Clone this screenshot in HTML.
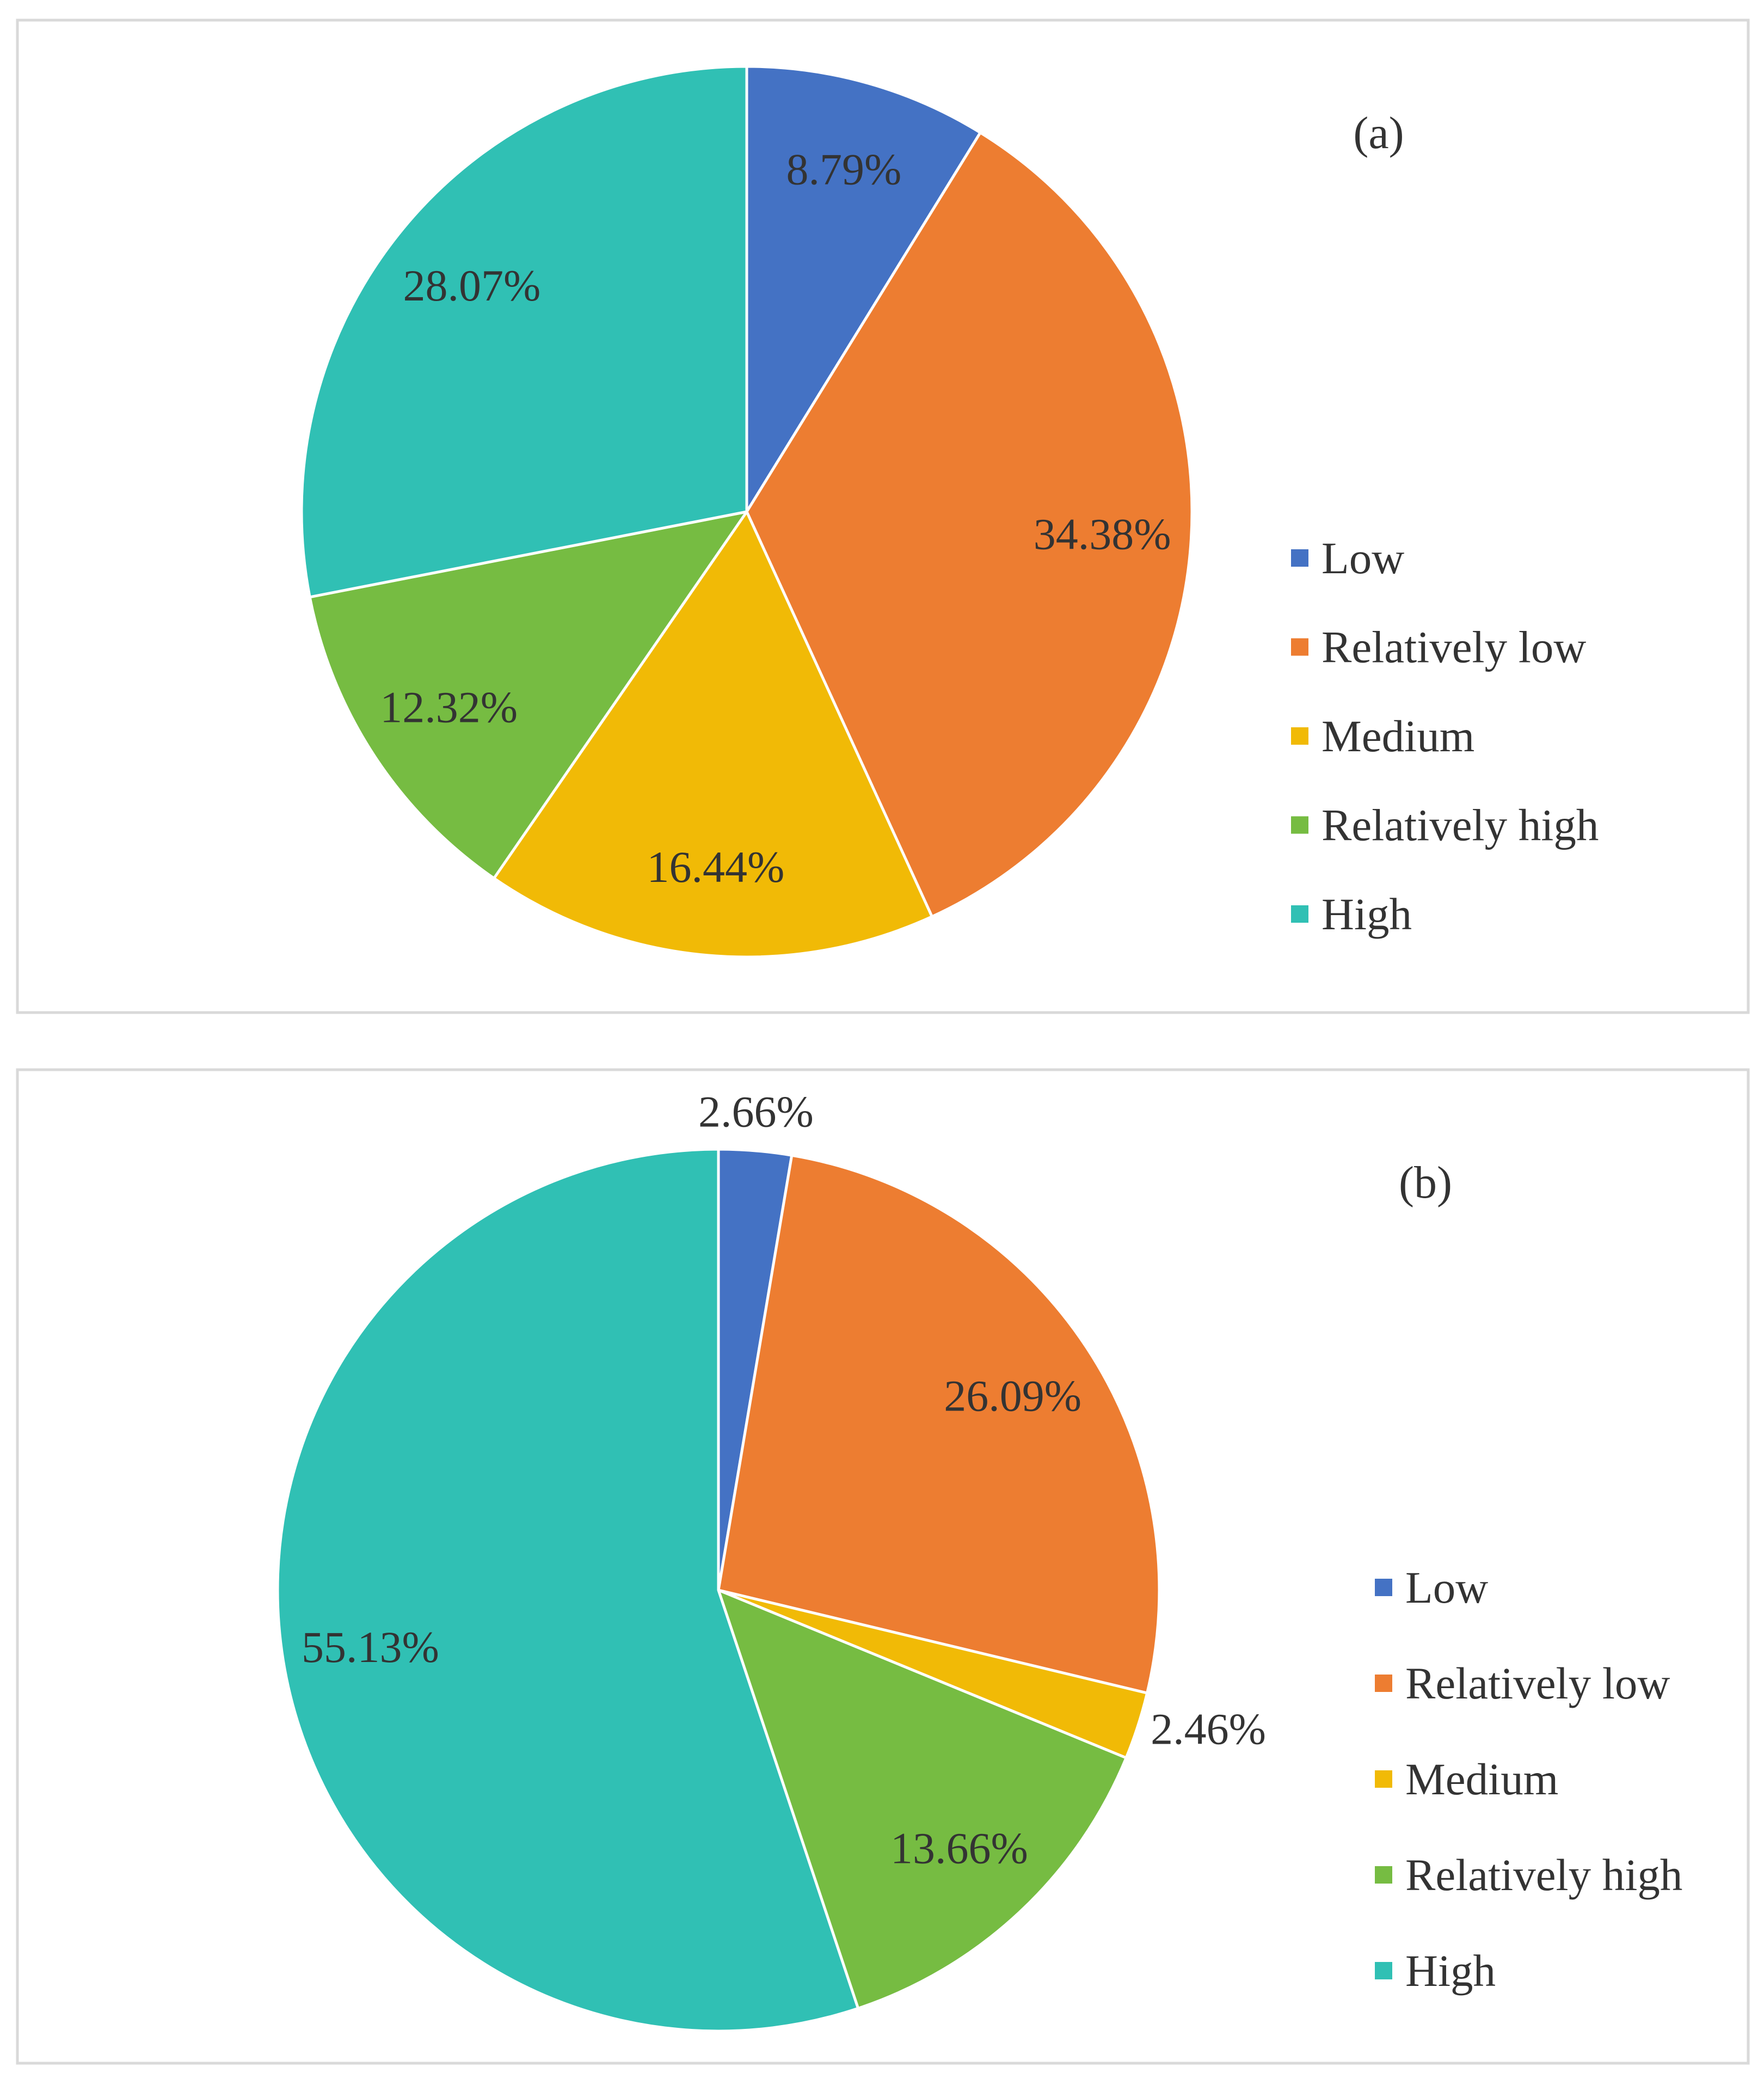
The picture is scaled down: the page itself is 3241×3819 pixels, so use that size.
<!DOCTYPE html>
<html><head><meta charset="utf-8"><style>
html,body{margin:0;padding:0;background:#fff;}
svg{display:block;}
text{font-family:"Liberation Serif",serif;fill:#333;}
</style></head><body>
<svg id="chart" width="3241" height="3819" viewBox="0 0 3241 3819" xmlns="http://www.w3.org/2000/svg">
<rect x="32" y="37" width="3180" height="1823" fill="#fff" stroke="#d9d9d9" stroke-width="5"/>
<rect x="32" y="1965" width="3180" height="1825" fill="#fff" stroke="#d9d9d9" stroke-width="5"/>
<text x="2533" y="272" font-size="84" text-anchor="middle">(a)</text>
<text x="2619" y="2200" font-size="84" text-anchor="middle">(b)</text>
<g id="pa"></g><g id="pb"></g>
</svg>
<script>
const categories = ["Low","Relatively low","Medium","Relatively high","High"];
const valuesA = [8.79,34.38,16.44,12.32,28.07];
const valuesB = [2.66,26.09,2.46,13.66,55.13];
const labelsA = ["8.79%","34.38%","16.44%","12.32%","28.07%"];
const labelsB = ["2.66%","26.09%","2.46%","13.66%","55.13%"];
const colors = ["#4472C4","#ED7D31","#F1BA06","#76BC42","#30C0B4"];
const NS="http://www.w3.org/2000/svg";
function mk(tag,attrs,parent){const e=document.createElementNS(NS,tag);for(const k in attrs)e.setAttribute(k,attrs[k]);parent.appendChild(e);return e;}
function drawPie(g,vals,labels,cx,cy,r,legX,legY0,legStep,tag){
  const total=vals.reduce((a,b)=>a+b,0);
  let acc=0;
  const pt=(a,rr)=>[cx+rr*Math.sin(a),cy-rr*Math.cos(a)];
  vals.forEach((v,i)=>{
    const a0=acc/total*2*Math.PI; acc+=v; const a1=acc/total*2*Math.PI;
    const p0=pt(a0,r),p1=pt(a1,r);
    const large=(a1-a0)>Math.PI?1:0;
    const p=mk('path',{d:`M${cx},${cy} L${p0[0]},${p0[1]} A${r},${r} 0 ${large} 1 ${p1[0]},${p1[1]} Z`,fill:colors[i],stroke:'#fff','stroke-width':5,'stroke-linejoin':'round'},g);
    
    
    const am=(a0+a1)/2; const pct=v/total;
    let t;
    if(pct<0.05){
      const s=Math.sin(am);
      if(Math.abs(s)>0.7){
        const lp=pt(am,r*1.02);
        t=mk('text',{x:lp[0]+(s>0?8:-8),y:lp[1]+28,'font-size':82,'text-anchor':s>0?'start':'end'},g);
      } else {
        const lp=pt(am,r*1.02);
        t=mk('text',{x:lp[0],y:lp[1]-(Math.cos(am)>0?28:-84),'font-size':82,'text-anchor':'middle'},g);
      }
    } else {
      const lp=pt(am,r*0.8);
      t=mk('text',{x:lp[0],y:lp[1]+28,'font-size':82,'text-anchor':'middle'},g);
    }
    t.textContent=labels[i];
    
    
  });
  categories.forEach((c,i)=>{
    const y=legY0+i*legStep;
    const s=mk('rect',{x:legX,y:y-16,width:32,height:32,fill:colors[i]},g);
    
    
    const t=mk('text',{x:legX+56,y:y+28,'font-size':83},g);
    t.textContent=c;
    
    
  });
}
drawPie(document.getElementById('pa'),valuesA,labelsA,1372,940,818,2372,1025,163.5,'a');
drawPie(document.getElementById('pb'),valuesB,labelsB,1320,2921,810,2526,2916,176,'b');
</script>
</body></html>
